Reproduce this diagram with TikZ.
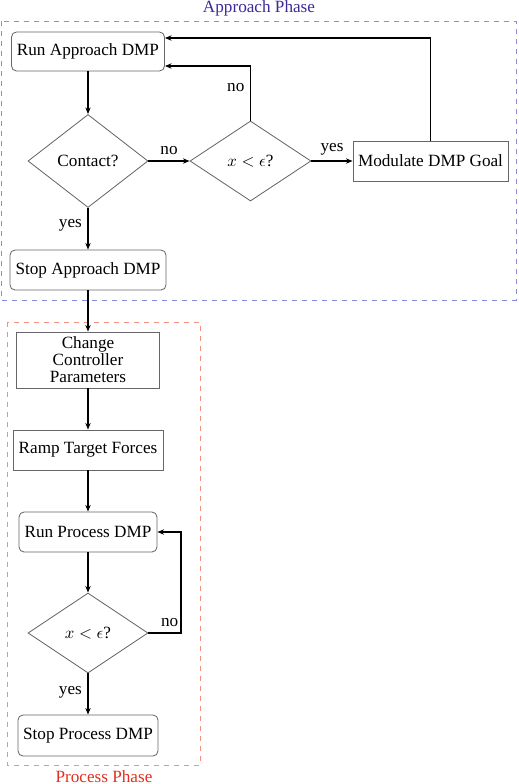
\documentclass[tikz,border=0pt]{standalone}
\usepackage{fontspec}
\setmainfont{Liberation Serif}
\usetikzlibrary{shapes.geometric,arrows.meta,calc}
\definecolor{apline}{HTML}{8C8CDC}
\definecolor{aptext}{HTML}{3A2A9A}
\definecolor{prline}{HTML}{F09080}
\definecolor{prtext}{HTML}{E03020}
\tikzset{
  box/.style={draw=black!60, line width=0.5pt, rectangle, inner sep=0pt, align=center},
  rbox/.style={box, rounded corners=3pt},
  dec/.style={draw=black!60, line width=0.5pt, diamond, inner sep=0pt},
  arr/.style={draw=black, line width=0.7pt, -{Stealth[length=4pt,width=3.2pt]}},
  lbl/.style={font=\fontsize{10.3}{12}\selectfont},
  phase/.style={dashed, line width=0.5pt}
}
\begin{document}
\begin{tikzpicture}[x=0.6pt,y=-0.6pt,font=\fontsize{10.3}{10.2}\selectfont]
\useasboundingbox (0,0) rectangle (519,784);
% phase frames
\draw[phase, draw=apline] (1,21) rectangle (516,300);
\node[text=aptext] (aptitle) at (259,8) {Approach Phase};
\draw[phase, draw=prline] (7,322) rectangle (200,765);
\node[text=prtext] (prtitle) at (104,776.5) {Process Phase};
% nodes
\node[rbox, minimum width=91.8pt, minimum height=23.4pt] (runA) at (88,51.5) {Run Approach DMP};
\node[dec, minimum width=72pt, minimum height=55.8pt] (contact) at (88,161) {Contact?};
\node[dec, minimum width=72.6pt, minimum height=48pt] (xe1) at (250.5,161) {$x<\epsilon$?};
\node[box, minimum width=93pt, minimum height=24pt] (mod) at (430.5,161) {Modulate DMP Goal};
\node[rbox, minimum width=93.6pt, minimum height=24pt] (stopA) at (88,270) {Stop Approach DMP};
\node[box, minimum width=85.8pt, minimum height=33.6pt] (change) at (88,360) {Change\\Controller\\Parameters};
\node[box, minimum width=90pt, minimum height=24pt] (ramp) at (88,450) {Ramp Target Forces};
\node[rbox, minimum width=82.8pt, minimum height=24pt] (runP) at (88,532) {Run Process DMP};
\node[dec, minimum width=72pt, minimum height=48pt] (xe2) at (88,633) {$x<\epsilon$?};
\node[rbox, minimum width=84pt, minimum height=24.6pt] (stopP) at (88,735.5) {Stop Process DMP};
% connectors
\draw[arr] (runA.south) -- (contact.north);
\draw[arr] (contact.east) -- node[above, lbl] {no} (xe1.west);
\draw[arr] (xe1.east) -- node[above, lbl] {yes} (mod.west);
\coordinate (inA1) at ($(runA.east)+(0,14.5)$);
\coordinate (inA2) at ($(runA.east)+(0,-13.5)$);
\draw[arr] (xe1.north) |- node[pos=0.3, left, lbl] {no} (inA1);
\draw[arr] (mod.north) |- (inA2);
\draw[arr] (contact.south) -- node[pos=0.42, left, lbl] {yes} (stopA.north);
\draw[arr] (stopA.south) -- (change.north);
\draw[arr] (change.south) -- (ramp.north);
\draw[arr] (ramp.south) -- (runP.north);
\draw[arr] (runP.south) -- (xe2.north);
\coordinate (loopP) at (181,633);
\draw[arr] (xe2.east) -- node[pos=0.65, above, lbl] {no} (loopP) |- (runP.east);
\draw[arr] (xe2.south) -- node[pos=0.45, left, lbl] {yes} (stopP.north);
\end{tikzpicture}
\end{document}
